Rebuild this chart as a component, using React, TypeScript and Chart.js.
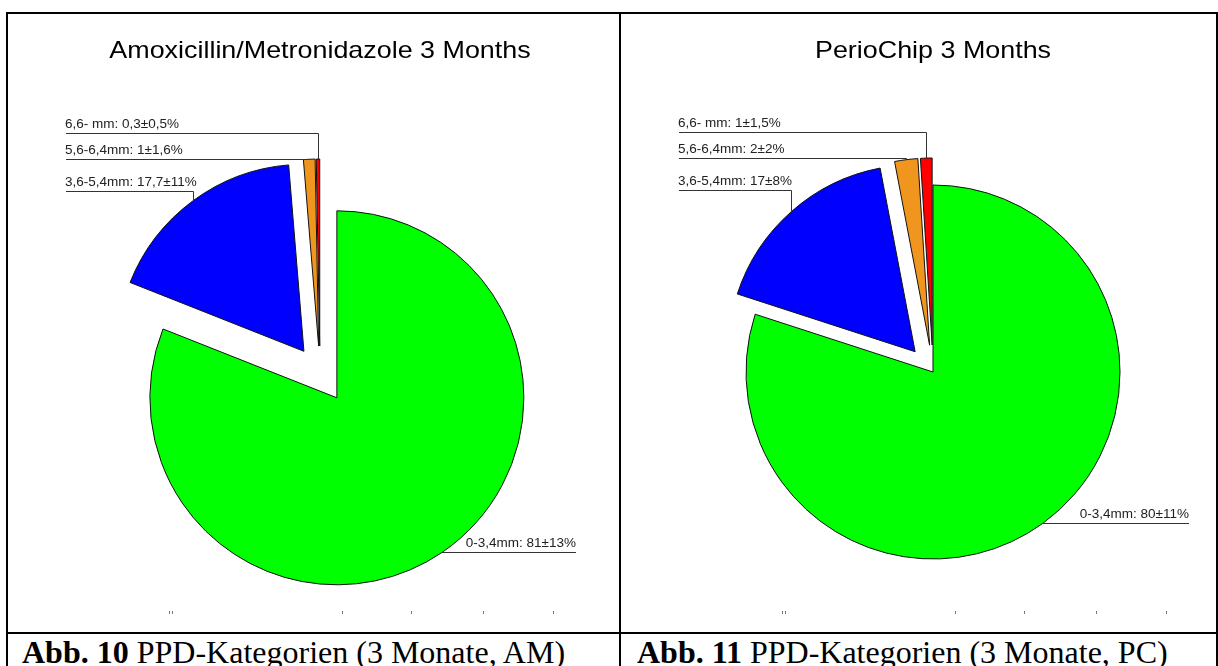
import React, { useEffect, useRef } from 'react';
import { Chart, registerables } from 'chart.js';

Chart.register(...registerables);

// ---- data ----
const categories = ['0-3,4mm', '3,6-5,4mm', '5,6-6,4mm', '6,6- mm'];
const amValues = [81, 17.7, 1, 0.3];
const amSD = [13, 11, 1.6, 0.5];
const pcValues = [80, 17, 2, 1];
const pcSD = [11, 8, 2, 1.5];
const amTitle = 'Amoxicillin/Metronidazole 3 Months';
const pcTitle = 'PerioChip 3 Months';
const amCaptionBold = 'Abb. 10';
const amCaption = ' PPD-Kategorien (3 Monate, AM)';
const pcCaptionBold = 'Abb. 11';
const pcCaption = ' PPD-Kategorien (3 Monate, PC)';

// ---- styles ----
const sliceColors = ['#00FF00', '#0000FF', '#F0961E', '#FF0000'];
const amExplode = [30, 27, 27, 27];
const pcExplode = [0, 27, 27, 27];

const fmt = (n: number) => String(n).replace('.', ',');

const SANS = '"Liberation Sans", Arial, sans-serif';

type PanelProps = {
  left: number;
  top: number;
  width: number;
  height: number;
  cx: number;
  cy: number;
  title: string;
  values: number[];
  sds: number[];
  explode: number[];
};

const explodedPie = {
  id: 'explodedPie',
  beforeDatasetsDraw(chart: any) {
    const ctx = chart.ctx;
    const meta = chart.getDatasetMeta(0);
    const explode: number[] = chart.data.datasets[0].explode || [];
    meta.data.forEach((arc: any, i: number) => {
      const p = arc.getProps(['startAngle', 'endAngle'], true);
      const mid = (p.startAngle + p.endAngle) / 2;
      const e = explode[i] || 0;
      ctx.save();
      ctx.translate(Math.cos(mid) * e, Math.sin(mid) * e);
      arc.draw(ctx);
      ctx.restore();
    });
    return false;
  },
  afterDraw(chart: any, _args: any, opts: any) {
    const ctx = chart.ctx;
    const meta = chart.getDatasetMeta(0);
    const ds = chart.data.datasets[0];
    const explode: number[] = ds.explode || [];
    const labels: string[] = chart.data.labels;
    const { cx, cy, title, sds } = opts;

    // title (slightly wide lettering, as in the original export)
    ctx.save();
    ctx.fillStyle = '#000';
    ctx.font = `24px ${SANS}`;
    ctx.textAlign = 'center';
    ctx.textBaseline = 'alphabetic';
    ctx.translate(cx, 44);
    ctx.scale(1.12, 1);
    ctx.fillText(title, 0, 0);
    ctx.restore();

    // labels with leader lines
    const rowOffsets: Record<number, number> = { 3: -240, 2: -214, 1: -182 };
    ctx.save();
    ctx.font = `13.5px ${SANS}`;
    ctx.textBaseline = 'alphabetic';
    ctx.strokeStyle = '#333';
    ctx.fillStyle = '#222';
    ctx.lineWidth = 1;
    meta.data.forEach((arc: any, i: number) => {
      const p = arc.getProps(['x', 'y', 'startAngle', 'endAngle', 'outerRadius'], true);
      const mid = (p.startAngle + p.endAngle) / 2;
      const e = explode[i] || 0;
      const ax = Math.round(p.x + Math.cos(mid) * (e + p.outerRadius));
      const ay = Math.round(p.y + Math.sin(mid) * (e + p.outerRadius));
      const text = `${labels[i]}: ${fmt(ds.data[i])}±${fmt(sds[i])}%`;
      if (i === 0) {
        const rx = Math.round(cx + 256);
        ctx.beginPath();
        ctx.moveTo(ax, ay + 0.5);
        ctx.lineTo(rx, ay + 0.5);
        ctx.stroke();
        ctx.textAlign = 'right';
        ctx.fillText(text, rx, ay - 5);
      } else {
        const rowY = Math.round(cy + rowOffsets[i]);
        const lx = Math.round(cx - 254);
        ctx.beginPath();
        ctx.moveTo(lx, rowY + 0.5);
        ctx.lineTo(ax + 0.5, rowY + 0.5);
        if (ay > rowY) ctx.lineTo(ax + 0.5, ay);
        ctx.stroke();
        ctx.textAlign = 'left';
        ctx.fillText(text, cx - 255, rowY - 5);
      }
    });
    ctx.restore();

    // faint legend remnants at the bottom
    ctx.save();
    ctx.fillStyle = '#777';
    [-151, -148, 22, 91, 163, 233].forEach((dx) => {
      ctx.fillRect(Math.round(cx + dx), 597, 1, 3);
    });
    ctx.restore();
  },
};

function PiePanel(props: PanelProps) {
  const ref = useRef<HTMLCanvasElement | null>(null);
  useEffect(() => {
    if (!ref.current) return;
    const { width, height, cx, cy } = props;
    const dx = 2 * cx - width;
    const dy = 2 * cy - height;
    const chart = new Chart(ref.current, {
      type: 'pie',
      data: {
        labels: categories,
        datasets: [
          {
            data: props.values,
            backgroundColor: sliceColors,
            borderColor: '#111',
            borderWidth: 1,
            radius: 187,
            explode: props.explode,
          } as any,
        ],
      },
      options: {
        responsive: false,
        maintainAspectRatio: false,
        animation: false,
        devicePixelRatio: 1,
        events: [],
        layout: {
          padding: {
            left: dx > 0 ? dx : 0,
            right: dx < 0 ? -dx : 0,
            top: dy > 0 ? dy : 0,
            bottom: dy < 0 ? -dy : 0,
          },
        },
        plugins: {
          legend: { display: false },
          tooltip: { enabled: false },
          title: { display: false },
          explodedPie: { cx, cy, title: props.title, sds: props.sds },
        } as any,
      },
      plugins: [explodedPie as any],
    });
    return () => chart.destroy();
  }, []);
  return (
    <canvas
      ref={ref}
      width={props.width}
      height={props.height}
      style={{
        position: 'absolute',
        left: props.left,
        top: props.top,
        width: props.width,
        height: props.height,
      }}
    />
  );
}

const line = (left: number, top: number, width: number, height: number) => (
  <div style={{ position: 'absolute', left, top, width, height, background: '#000' }} />
);

export default function App() {
  const captionStyle = (left: number): React.CSSProperties => ({
    position: 'absolute',
    left,
    top: 635,
    fontFamily: '"Liberation Serif", "Times New Roman", serif',
    fontSize: 32,
    lineHeight: '34px',
    color: '#000',
    whiteSpace: 'nowrap',
  });
  return (
    <div
      style={{
        position: 'absolute',
        left: 0,
        top: 0,
        width: 1218,
        height: 666,
        overflow: 'hidden',
        background: '#fff',
      }}
    >
      <PiePanel
        left={8}
        top={14}
        width={611}
        height={618}
        cx={312}
        cy={359}
        title={amTitle}
        values={amValues}
        sds={amSD}
        explode={amExplode}
      />
      <PiePanel
        left={621}
        top={14}
        width={595}
        height={618}
        cx={312}
        cy={358}
        title={pcTitle}
        values={pcValues}
        sds={pcSD}
        explode={pcExplode}
      />
      {line(6, 12, 1212, 2)}
      {line(6, 12, 2, 654)}
      {line(619, 12, 2, 654)}
      {line(1216, 12, 2, 654)}
      {line(6, 632, 1212, 2)}
      <div style={captionStyle(22)}>
        <b>{amCaptionBold}</b>
        {amCaption}
      </div>
      <div style={captionStyle(637)}>
        <b>{pcCaptionBold}</b>
        {pcCaption}
      </div>
    </div>
  );
}
